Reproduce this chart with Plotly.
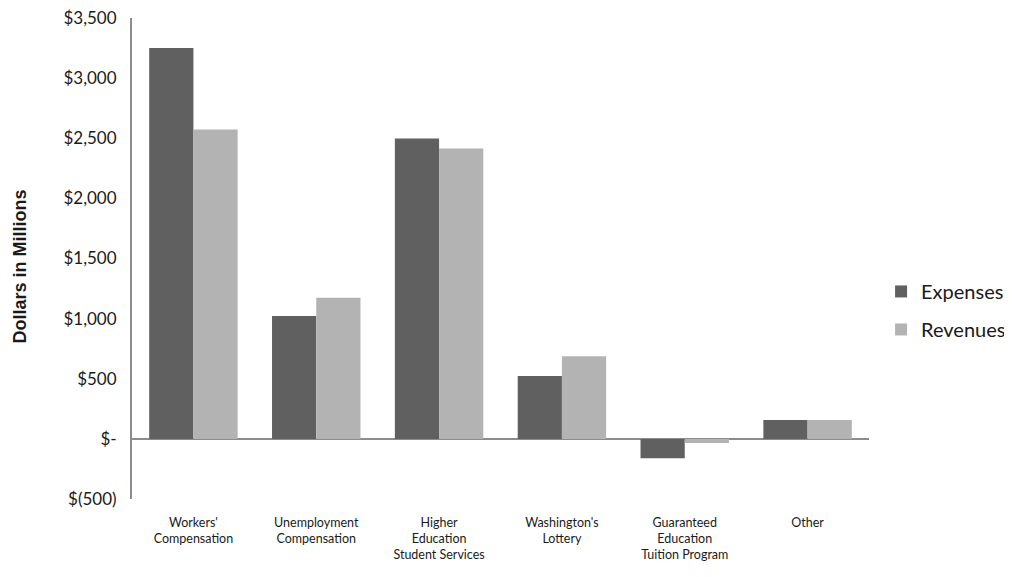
import plotly.graph_objects as go

categories = ["Workers'<br>Compensation", "Unemployment<br>Compensation",
              "Higher<br>Education<br>Student Services", "Washington's<br>Lottery",
              "Guaranteed<br>Education<br>Tuition Program", "Other"]
expenses = [3250, 1022, 2498, 522, -162, 157]
revenues = [2573, 1173, 2414, 687, -34, 157]
tick_vals = [-500, 0, 500, 1000, 1500, 2000, 2500, 3000, 3500]
tick_text = ["$(500)", "$-", "$500", "$1,000", "$1,500", "$2,000", "$2,500", "$3,000", "$3,500"]

fig = go.Figure()
fig.add_trace(go.Bar(name="Expenses", x=categories, y=expenses, legendgroup="e",
                     marker=dict(color="#606060", line=dict(width=0))))
fig.add_trace(go.Bar(name="Revenues", x=categories, y=revenues, legendgroup="r",
                     marker=dict(color="#b3b3b3", line=dict(width=0))))

fig.update_layout(
    width=1012, height=577,
    margin=dict(l=124, r=150, t=10, b=86),
    paper_bgcolor="white", plot_bgcolor="white",
    barmode="group", bargap=0.28, bargroupgap=0,
    font=dict(family="Lato, Liberation Sans, sans-serif", color="#1a1a1a"),
    legend=dict(x=1.015, y=0.392, yanchor="middle", xanchor="left",
                font=dict(size=20, family="Lato"), itemwidth=30,
                tracegroupgap=9, bgcolor="rgba(0,0,0,0)"),
    xaxis=dict(showline=False, showgrid=False, ticks="", tickfont=dict(size=12.5),
               ticklabelstandoff=14, automargin=False, ticklabeloverflow="allow"),
    yaxis=dict(range=[-500, 3500], tickvals=tick_vals, ticktext=tick_text,
               showgrid=False, showline=True, linecolor="#8c8c8c", linewidth=2,
               zeroline=True, zerolinecolor="#8c8c8c", zerolinewidth=2,
               tickfont=dict(size=17), ticks="", ticklabelstandoff=10,
               automargin=False, ticklabeloverflow="allow"),
    annotations=[dict(text="<b>Dollars in Millions</b>", textangle=-90,
                      xref="paper", yref="paper", x=0, y=0.5, xanchor="center",
                      yanchor="middle", xshift=-113, yshift=-8, showarrow=False,
                      font=dict(size=18, family="Liberation Sans, Arial", color="#1a1a1a"))],
)

fig.write_html("out.html")
